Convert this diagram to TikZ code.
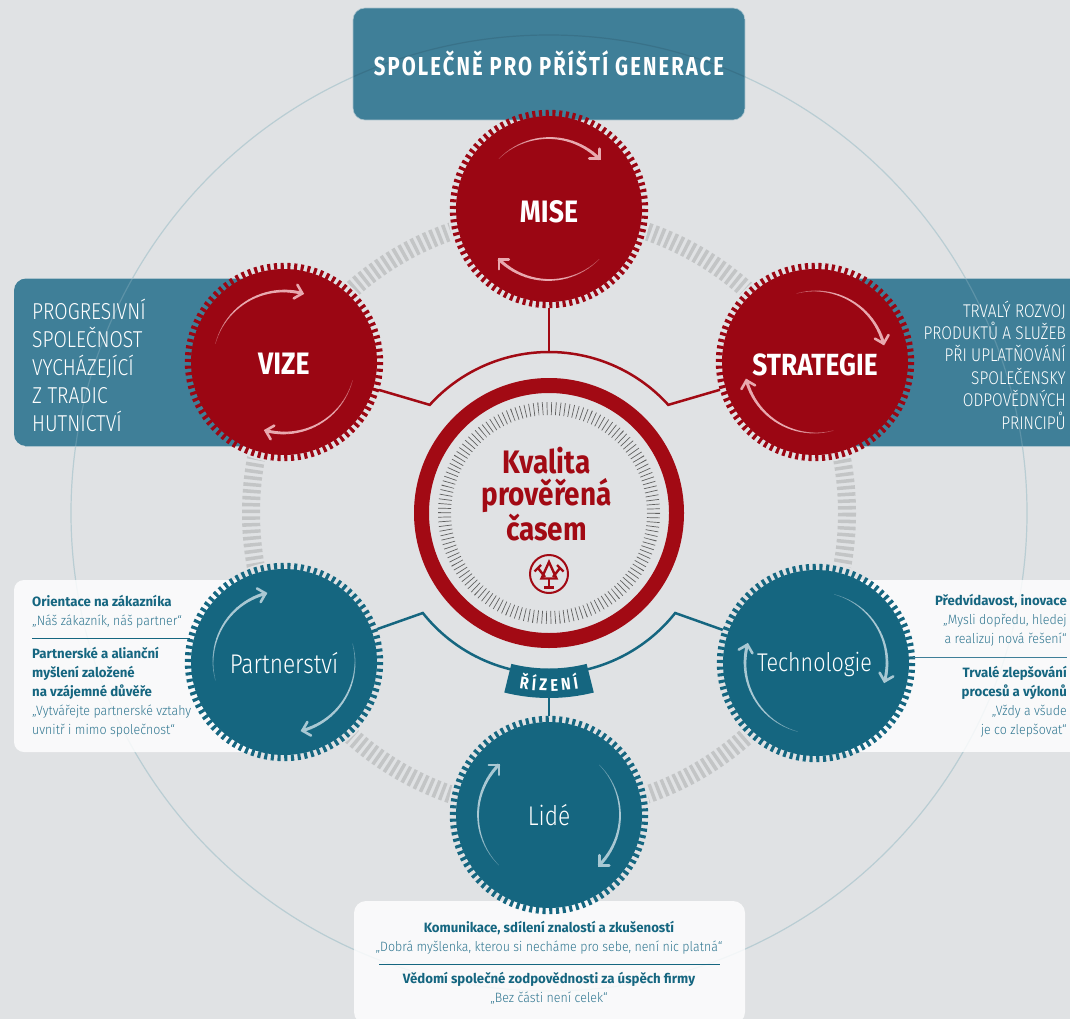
\documentclass[tikz,border=0pt]{standalone}
\usepackage{fontspec}
\usetikzlibrary{decorations.text,calc}
\newfontfamily\fb[FakeStretch=0.86]{Fira Sans}
\newfontfamily\ft[FakeStretch=0.78]{Fira Sans}
\newfontfamily\fbs[FakeStretch=0.98]{Fira Sans}
\newfontfamily\fl[FakeStretch=0.84]{Fira Sans Light}
\newfontfamily\fls[FakeStretch=0.92]{Fira Sans Light}
\definecolor{bgc}{HTML}{E0E2E4}
\definecolor{redc}{HTML}{9B0613}
\definecolor{redr}{HTML}{A20A14}
\definecolor{tealc}{HTML}{156680}
\definecolor{boxc}{HTML}{3F7F98}
\definecolor{boxl}{HTML}{A9C2CC}
\definecolor{greyt}{HTML}{C3C5C6}
\definecolor{bigc}{HTML}{B9CDD3}
\definecolor{pinkc}{HTML}{E8A9AF}
\definecolor{paleb}{HTML}{A9C8D3}
\definecolor{quotec}{HTML}{2F7690}
\tikzset{
  sat/.style={circle,inner sep=0,minimum size=186,outer sep=6,fill=#1,text=white},
  teeth/.style={line width=6.4,dash pattern=on 3.1 off 3.602},
  conn/.style={line width=2.5},
  btext/.style={inner sep=0,text=tealc,font=\fontsize{13.5}{19}\selectfont},
  whitebox/.style={fill=white,fill opacity=.82},
}
\newcommand{\lt}[1]{{\fls\color{quotec}#1}}
\newcommand{\bd}[1]{{\fbs\bfseries #1}}
\newcommand{\caps}{\fb\bfseries\fontsize{31}{31}\selectfont}
% text pushed down inside its node by half of the added height
\newcommand{\dn}[2]{\raisebox{0pt}[\dimexpr\height+#1pt\relax][\depth]{#2}}
% swoop: centre x,y, start angle, end angle, base colour, light colour
\newcommand{\swoop}[6]{%
  \begin{scope}[shift={(#1,#2)}]
    \foreach \i in {1,...,24}{
      \pgfmathsetmacro{\aa}{#3+(#4-#3)*(\i-1)/24}
      \pgfmathsetmacro{\ab}{#3+(#4-#3)*\i/24+0.3}
      \pgfmathsetmacro{\lw}{0.3+2.8*\i/24}
      \pgfmathsetmacro{\mx}{min(100,35+\i*7)}
      \draw[line width=\lw,color=#6!\mx!#5] (\aa:71) arc[start angle=\aa,end angle=\ab,radius=71];
    }
    \pgfmathsetmacro{\ta}{#4+90}
    \coordinate (tip) at (#4:71);
    \draw[line width=2.6,color=#6,line cap=round,line join=miter]
      ($(tip)+(\ta+135:10)$) -- (tip) -- ($(tip)+(\ta-135:10)$);
  \end{scope}}
\begin{document}
\begin{tikzpicture}[x=1pt,y=-1pt]
\useasboundingbox (0,0) rectangle (1070,1019);
\clip (0,0) rectangle (1070,1019);
\fill[bgc] (0,0) rectangle (1070,1019);
\coordinate (c) at (549,513);
% large pale circle and grey tick ring
\draw[bigc,line width=1.2] (c) circle[radius=478];
\draw[greyt,line width=18,dash pattern=on 3.5 off 3.187] (c) circle[radius=298];
\fill[bgc] (549,209) circle[radius=101] (284,362) circle[radius=101] (815,362) circle[radius=101]
 (284,662) circle[radius=101] (816,663) circle[radius=101] (549,815) circle[radius=101];
% boxes
\begin{scope}
\clip[rounded corners=12] (353,8) rectangle (745,120);
\fill[boxc] (353,8) rectangle (745,120);
\draw[color=boxc!90!black,line width=1.2] (c) circle[radius=478];
\end{scope}
\node[inner sep=0,text=white,font=\ft\bfseries\fontsize{26}{26}\selectfont\addfontfeature{LetterSpace=8}] (title) at (549,63) {SPOLEČNĚ PRO PŘÍŠTÍ GENERACE};
\draw[boxl,line width=.6,rounded corners=12] (353,8) rectangle (745,120);
\fill[boxc,rounded corners=12] (14,278.5) -- (300,278.5) -- (300,446) -- (14,446) -- cycle;
\fill[boxc] (815,278.5) rectangle (1070,446);
\draw[boxl,line width=.6] (25,278.5) -- (284,278.5) (25,446) -- (284,446) (815,278.5) -- (1070,278.5) (815,446) -- (1070,446);
\begin{scope}
\clip (14,279) rectangle (1070,445.5);
\draw[color=boxc!85!white,line width=1.2] (c) circle[radius=478];
\end{scope}
% white boxes
\fill[whitebox,rounded corners=10] (14,580) rectangle (290,752);
\fill[whitebox] (816,580) rectangle (1070,752);
\fill[whitebox,rounded corners=12] (354,901) rectangle (745,1024);
% centre
\draw[redr,line width=15] (c) circle[radius=127.5];
\draw[color=black!62,line width=13,dash pattern=on .7 off 3.677] (c) circle[radius=104.5];
% connectors and nodes
\coordinate (rl) at ({549+161*cos(222.2)},{513+161*sin(222.2)});
\coordinate (rr) at ({549+161*cos(317.8)},{513+161*sin(317.8)});
\coordinate (rtop) at (549,352);
\coordinate (tl) at ({549+161*cos(141.6)},{513+161*sin(141.6)});
\coordinate (tr) at ({549+161*cos(38.4)},{513+161*sin(38.4)});
\coordinate (bb) at (549,698);
\foreach \n/\x/\y/\col/\t in {
  mise/549/209/redc/{\caps\dn{6}{MISE}},
  vize/284/362/redc/{\caps\dn{4}{VIZE}},
  strat/815/362/redc/{\fb\bfseries\fontsize{30.6}{31}\selectfont\dn{6}{STRATEGIE}},
  part/284/662/tealc/{\fl\fontsize{27}{28}\selectfont\dn{2}{Partnerství}},
  tech/816/663/tealc/{\fl\fontsize{25.6}{28}\selectfont\hspace*{-3pt}\dn{2}{Technologie}},
  lide/549/815/tealc/{\fl\fontsize{27}{28}\selectfont Lidé}}{
  \draw[\col,teeth] (\x,\y) circle[radius=95.99];
  \node[sat=\col] (\n) at (\x,\y) {\t};
}
\draw[redr,conn] (vize) -- (rl) arc[start angle=222.2,end angle=317.8,radius=161] -- (strat);
\draw[redr,conn] (mise) -- (rtop);
\draw[tealc,conn] (part) -- (tl) arc[start angle=141.6,end angle=38.4,radius=161] -- (tech);
\draw[tealc,conn] (bb) -- (lide);
% badge
\fill[tealc] ($(c)+(104:155.5)$) arc[start angle=104,end angle=76,radius=155.5]
  -- ($(c)+(76:185)$) arc[start angle=76,end angle=104,radius=185] -- cycle;
\path[decorate,decoration={text along path,text align=center,
  text={|\fb\bfseries\fontsize{17}{17}\selectfont\color{white}|Ř Í Z E N Í}}]
  ($(c)+(104.5:178)$) arc[start angle=104.5,end angle=75.5,radius=178];
% swoops
\swoop{549}{209}{-135}{-45}{redc}{pinkc}
\swoop{549}{209}{45}{135}{redc}{pinkc}
\swoop{284}{362}{-165}{-75}{redc}{pinkc}
\swoop{284}{362}{15}{105}{redc}{pinkc}
\swoop{815}{362}{-105}{-15}{redc}{pinkc}
\swoop{815}{362}{75}{165}{redc}{pinkc}
\swoop{284}{662}{165}{255}{tealc}{paleb}
\swoop{284}{662}{-15}{75}{tealc}{paleb}
\swoop{816}{663}{-75}{15}{tealc}{paleb}
\swoop{816}{663}{105}{195}{tealc}{paleb}
\swoop{549}{815}{135}{225}{tealc}{paleb}
\swoop{549}{815}{-45}{45}{tealc}{paleb}
% centre text
\node[inner sep=0,align=center,text=redr,font=\fb\bfseries\fontsize{32.5}{32}\selectfont] (kv) at (546.5,494) {Kvalita\\prověřená\\časem};
% logo
\node[circle,draw=redr,line width=2,minimum size=38,inner sep=0] (logo) at (549,574) {};
\begin{scope}[redr,line width=2.4]
\draw[line join=miter] (549,562) -- (541.5,578.5) -- (556.5,578.5) -- cycle;
\draw (549,578.5) -- (549,587.5) (544,587.5) -- (554,587.5);
\draw (538,568) -- (545,577) (534.5,571.5) -- (541,565);
\draw (560,568) -- (553,577) (563.5,571.5) -- (557,565);
\end{scope}
% box texts
\node[inner sep=0,anchor=west,align=left,text=white,font=\fl\fontsize{23}{28}\selectfont] (vt) at (32,365) {PROGRESIVNÍ\\SPOLEČNOST\\VYCHÁZEJÍCÍ\\Z TRADIC\\HUTNICTVÍ};
\node[inner sep=0,anchor=east,align=right,text=white,font=\fl\fontsize{18.4}{22.4}\selectfont] (st) at (1066,365) {TRVALÝ ROZVOJ\\PRODUKTŮ A SLUŽEB\\PŘI UPLATŇOVÁNÍ\\SPOLEČENSKY\\ODPOVĚDNÝCH\\PRINCIPŮ};
\node[btext,anchor=west,align=left] (l1) at (32,612) {\bd{Orientace na zákazníka}\\\lt{„Náš zákazník, náš partner“}};
\draw[tealc,line width=.8] (32,638) -- (190,638);
\node[btext,anchor=west,align=left] (l2) at (32,692) {\bd{Partnerské a alianční}\\\bd{myšlení založené}\\\bd{na vzájemné důvěře}\\\lt{„Vytvářejte partnerské vztahy}\\\lt{uvnitř i mimo společnost“}};
\node[btext,anchor=east,align=right] (r1) at (1067,620.5) {\bd{Předvídavost, inovace}\\\lt{„Mysli dopředu, hledej}\\\lt{a realizuj nová řešení“}};
\draw[boxc,line width=.8] (913,657) -- (1067,657);
\node[btext,anchor=east,align=right] (r2) at (1067,702) {\bd{Trvalé zlepšování}\\\bd{procesů a výkonů}\\\lt{„Vždy a všude}\\\lt{je co zlepšovat“}};
\node[btext,align=center] (b1) at (549,938) {\bd{Komunikace, sdílení znalostí a zkušeností}\\\lt{„Dobrá myšlenka, kterou si necháme pro sebe, není nic platná“}};
\draw[tealc,line width=.8] (379,964) -- (720,964);
\node[btext,align=center] (b2) at (549,988) {\bd{Vědomí společné zodpovědnosti za úspěch firmy}\\\lt{„Bez části není celek“}};
\end{tikzpicture}
\end{document}
